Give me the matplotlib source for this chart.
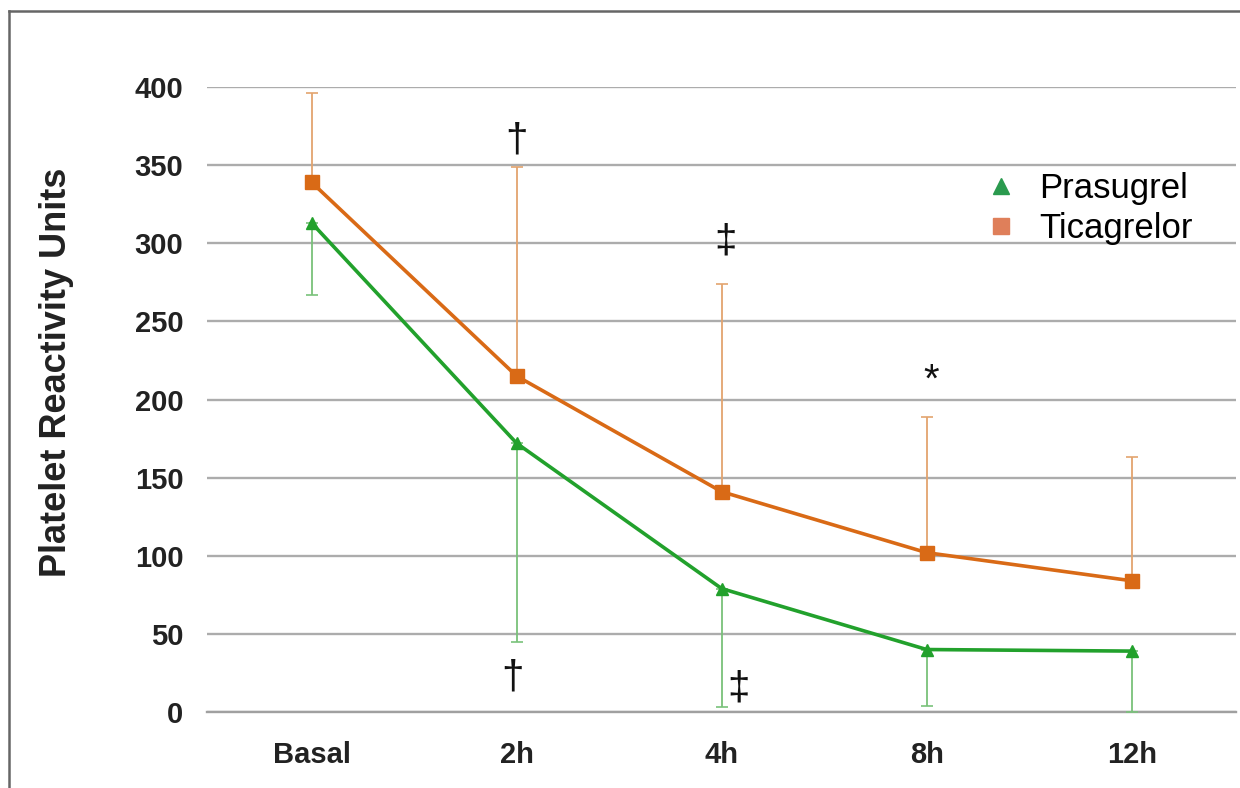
# Platelet reactivity: Prasugrel vs Ticagrelor
import numpy as np
import matplotlib.pyplot as plt
from matplotlib.lines import Line2D

plt.rcParams['font.family'] = ['Liberation Sans', 'DejaVu Sans']

# DATOS
tiempos = ['Basal', '2h', '4h', '8h', '12h']
prasugrel = [313, 172, 79, 40, 39]
prasugrel_inf = [267, 45, 3, 4, 0]        # extremo inferior de la barra de error
ticagrelor = [339, 215, 141, 102, 84]
ticagrelor_sup = [396, 349, 274, 189, 163]  # extremo superior de la barra de error

# marcas de significancia: (indice x, y, simbolo)
marcas = [(1.0, 366, '†'), (2.02, 301, '‡'), (3.02, 212, '*'),
          (0.98, 22, '†'), (2.08, 15, '‡')]

x = np.arange(len(tiempos))
prasugrel = np.array(prasugrel, dtype=float)
ticagrelor = np.array(ticagrelor, dtype=float)
err_p = [prasugrel - np.array(prasugrel_inf), np.zeros(len(x))]
err_t = [np.zeros(len(x)), np.array(ticagrelor_sup) - ticagrelor]

fig = plt.figure(figsize=(12.4, 7.88), dpi=100)
ax = fig.add_axes([0.167, 0.0964, 0.83, 0.7932])

verde = '#22a12c'
naranja = '#d96a16'

ax.errorbar(x, ticagrelor, yerr=err_t, fmt='none', ecolor='#e3a46e',
            elinewidth=1.3, capsize=4, capthick=1.2, zorder=3)
ax.errorbar(x, prasugrel, yerr=err_p, fmt='none', ecolor='#79c27a',
            elinewidth=1.3, capsize=4, capthick=1.2, zorder=3)
ax.plot(x, ticagrelor, '-s', color=naranja, lw=2.6, ms=10, zorder=4)
ax.plot(x, prasugrel, '-^', color=verde, lw=2.6, ms=9, zorder=4)

for xi, yi, s in marcas:
    ax.text(xi, yi, s, ha='center', va='center', fontsize=29, color='#111111')

ax.set_xlim(-0.51, 4.51)
ax.set_ylim(0, 400)
ax.set_yticks(np.arange(0, 401, 50))
ax.set_xticks(x)
ax.set_xticklabels(tiempos)
ax.grid(axis='y', color='#acacac', lw=1.7)
ax.set_axisbelow(True)
for lado in ['top', 'right', 'left']:
    ax.spines[lado].set_visible(False)
ax.spines['bottom'].set_color('#a0a0a0')
ax.spines['bottom'].set_linewidth(1.7)
ax.tick_params(length=0)
ax.tick_params(axis='y', pad=17, labelsize=21)
ax.tick_params(axis='x', pad=21, labelsize=21)
for t in ax.get_xticklabels() + ax.get_yticklabels():
    t.set_fontweight('bold')
    t.set_color('#222222')

fig.text(57 / 1240, 1 - 372 / 788, 'Platelet Reactivity Units', rotation=90,
         ha='center', va='center', fontsize=26, fontweight='bold', color='#222222')

# Leyenda
h = [Line2D([], [], ls='none', marker='^', color='#2a9a4e', ms=11),
     Line2D([], [], ls='none', marker='s', color='#df7f5a', ms=11)]
ax.legend(h, ['Prasugrel', 'Ticagrelor'], loc='upper left',
          bbox_to_anchor=(0.7375, 0.891), frameon=False, fontsize=25,
          handlelength=1.0, handletextpad=0.6, labelspacing=0.2, borderpad=0)

# marco exterior
fig.add_artist(Line2D([9 / 1240, 9 / 1240], [0, 1 - 11 / 788], color='#666666', lw=1.8))
fig.add_artist(Line2D([9 / 1240, 1], [1 - 11 / 788, 1 - 11 / 788], color='#666666', lw=1.8))

fig.savefig('out.png', dpi=100)
